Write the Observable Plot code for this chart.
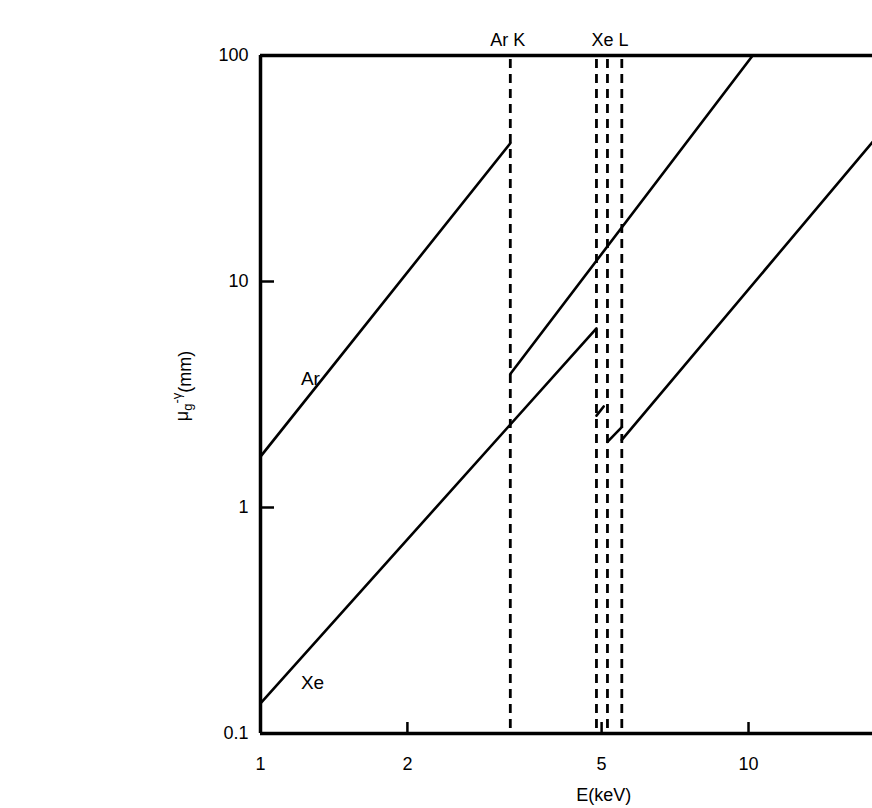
<!DOCTYPE html>
<html><head><meta charset="utf-8">
<script src="https://cdn.jsdelivr.net/npm/d3@7"></script>
<script src="https://cdn.jsdelivr.net/npm/@observablehq/plot@0.6"></script>
<style>html,body{margin:0;padding:0;background:#fff;overflow:hidden}</style>
</head><body><div id="chart"></div>
<script>
// ticks
const xTicks = [1, 2, 5, 10];
const xTickLabels = ["1", "2", "5", "10"];
const yTicks = [0.1, 1, 10, 100];
const yTickLabels = ["0.1", "1", "10", "100"];
// absorption edges (keV)
const edgeE = [3.25, 4.88, 5.14, 5.5];
const edgeLabels = ["Ar K", "Xe L"];
const edgeLabelE = [3.21, 5.2];
// series labels
const seriesNames = ["Ar", "Xe"];
const seriesLabelE = [1.21, 1.21];
const seriesLabelV = [3.49, 0.157];
// curve segments: energy (keV) and absorption length (mm)
const arSeg1E = [1, 3.25],     arSeg1V = [1.68, 40.9];
const arSeg2E = [3.25, 10.2],  arSeg2V = [3.9, 100];
const xeSeg1E = [1, 4.88],     xeSeg1V = [0.136, 6.2];
const xeSeg2E = [4.88, 5.05],  xeSeg2V = [2.55, 2.8];
const xeSeg3E = [5.14, 5.5],   xeSeg3V = [1.95, 2.27];
const xeSeg4E = [5.5, 17.95],  xeSeg4V = [1.99, 41.4];
const xLabel = "E(keV)";
const xLabelE = 5.05;

const segments = [
  ["Ar", 1, arSeg1E, arSeg1V], ["Ar", 2, arSeg2E, arSeg2V],
  ["Xe", 1, xeSeg1E, xeSeg1V], ["Xe", 2, xeSeg2E, xeSeg2V],
  ["Xe", 3, xeSeg3E, xeSeg3V], ["Xe", 4, xeSeg4E, xeSeg4V]
];
const rows = segments.flatMap(([s, k, E, V]) => E.map((e, i) => ({seg: s + k, E: e, V: V[i]})));

const W = 872, H = 808, mL = 260, mR = 0, mT = 55, mB = 75;
const frameW = W - mL - mR, frameH = H - mT - mB;

const chart = Plot.plot({
  width: W, height: H,
  marginLeft: mL, marginRight: mR, marginTop: mT, marginBottom: mB,
  style: {fontFamily: "'Liberation Sans', Arial, sans-serif", fontSize: "18px", background: "#fff", color: "#000"},
  x: {type: "log", domain: [1, 17.95]},
  y: {type: "log", domain: [0.1, 100]},
  marks: [
    // frame
    Plot.ruleY([0.1, 100], {y: d => d, stroke: "#000", strokeWidth: 3.5}),
    Plot.ruleX([1], {x: d => d, stroke: "#000", strokeWidth: 3.5}),
    // inward ticks
    Plot.ruleX(xTicks.slice(1), {x: d => d, stroke: "#000", strokeWidth: 2.5, insetTop: frameH - 11}),
    Plot.ruleY(yTicks.slice(1, 3), {y: d => d, stroke: "#000", strokeWidth: 2.5, insetRight: frameW - 14}),
    // tick labels
    Plot.axisX(xTicks, {tickSize: 0, tickPadding: 24, fontSize: 18, label: null,
      tickFormat: d => xTickLabels[xTicks.indexOf(d)]}),
    Plot.axisY(yTicks, {tickSize: 0, tickPadding: 12, fontSize: 18, label: null,
      tickFormat: d => yTickLabels[yTicks.indexOf(d)]}),
    // absorption edges
    Plot.ruleX(edgeE, {x: d => d, stroke: "#000", strokeWidth: 2.8, strokeDasharray: "9,6", insetTop: 4, insetBottom: 4}),
    Plot.text(edgeLabels, {x: (d, i) => edgeLabelE[i], y: () => 100, text: d => d, dy: -10, lineAnchor: "bottom", fontSize: 18}),
    // curves
    Plot.line(rows, {x: "E", y: "V", z: "seg", stroke: "#000", strokeWidth: 2.6, clip: true}),
    Plot.text(seriesNames, {x: (d, i) => seriesLabelE[i], y: (d, i) => seriesLabelV[i], text: d => d,
      textAnchor: "start", lineAnchor: "bottom", fontSize: 19}),
    // x label
    Plot.text([xLabel], {x: () => xLabelE, y: () => 0.1, text: d => d, dy: 67, lineAnchor: "bottom", fontSize: 18})
  ]
});

// y label with subscript / superscript
const t = d3.select(chart).append("text")
  .attr("transform", "translate(188,386) rotate(-90)")
  .attr("text-anchor", "middle")
  .attr("font-size", 18)
  .attr("fill", "#000");
t.append("tspan").text("μ");
t.append("tspan").attr("dy", "0.3em").attr("font-size", 13).text("g");
t.append("tspan").attr("dy", "-0.85em").attr("font-size", 13).text("-γ");
t.append("tspan").attr("dy", "0.55em").text("(mm)");

document.getElementById("chart").appendChild(chart);
</script>
</body></html>
